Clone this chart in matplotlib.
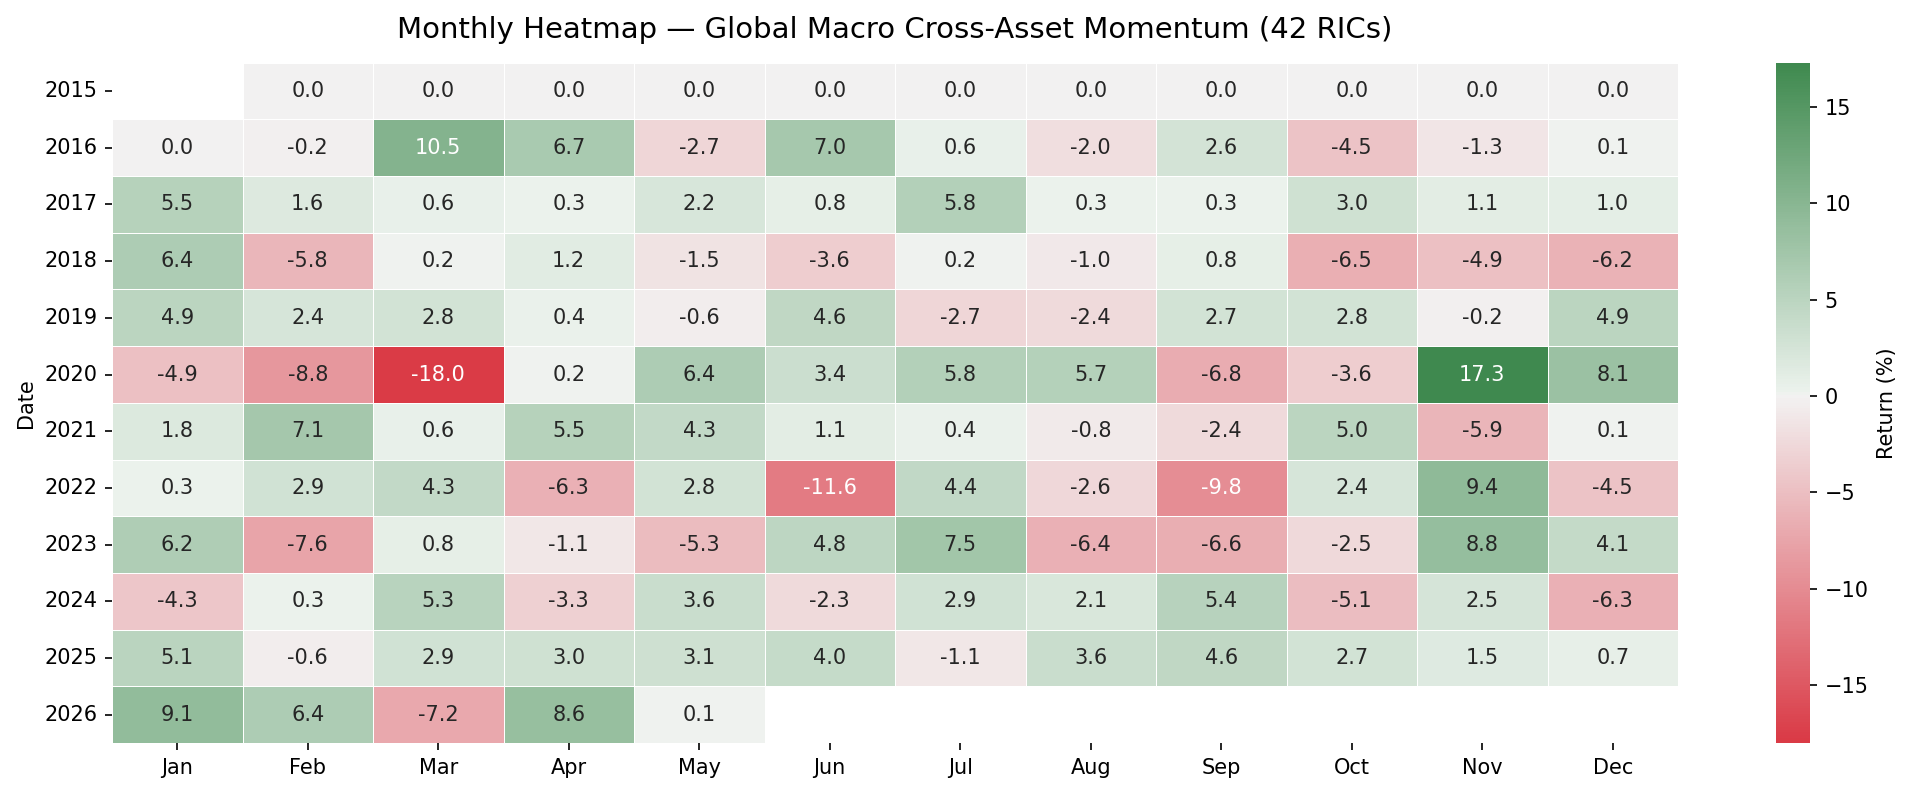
import numpy as np
import pandas as pd
import matplotlib
matplotlib.use("Agg")
import matplotlib.pyplot as plt
import seaborn as sns

# ── data ────────────────────────────────────────────────────────────────────
years = [2015, 2016, 2017, 2018, 2019, 2020, 2021, 2022, 2023, 2024, 2025, 2026]
months = ["Jan", "Feb", "Mar", "Apr", "May", "Jun",
          "Jul", "Aug", "Sep", "Oct", "Nov", "Dec"]
nan = np.nan
r2015 = [nan, 0.0, 0.0, 0.0, 0.0, 0.0, 0.0, 0.0, 0.0, 0.0, 0.0, 0.0]
r2016 = [0.0, -0.2, 10.5, 6.7, -2.7, 7.0, 0.6, -2.0, 2.6, -4.5, -1.3, 0.1]
r2017 = [5.5, 1.6, 0.6, 0.3, 2.2, 0.8, 5.8, 0.3, 0.3, 3.0, 1.1, 1.0]
r2018 = [6.4, -5.8, 0.2, 1.2, -1.5, -3.6, 0.2, -1.0, 0.8, -6.5, -4.9, -6.2]
r2019 = [4.9, 2.4, 2.8, 0.4, -0.6, 4.6, -2.7, -2.4, 2.7, 2.8, -0.2, 4.9]
r2020 = [-4.9, -8.8, -18.0, 0.2, 6.4, 3.4, 5.8, 5.7, -6.8, -3.6, 17.3, 8.1]
r2021 = [1.8, 7.1, 0.6, 5.5, 4.3, 1.1, 0.4, -0.8, -2.4, 5.0, -5.9, 0.1]
r2022 = [0.3, 2.9, 4.3, -6.3, 2.8, -11.6, 4.4, -2.6, -9.8, 2.4, 9.4, -4.5]
r2023 = [6.2, -7.6, 0.8, -1.1, -5.3, 4.8, 7.5, -6.4, -6.6, -2.5, 8.8, 4.1]
r2024 = [-4.3, 0.3, 5.3, -3.3, 3.6, -2.3, 2.9, 2.1, 5.4, -5.1, 2.5, -6.3]
r2025 = [5.1, -0.6, 2.9, 3.0, 3.1, 4.0, -1.1, 3.6, 4.6, 2.7, 1.5, 0.7]
r2026 = [9.1, 6.4, -7.2, 8.6, 0.1, nan, nan, nan, nan, nan, nan, nan]

table = pd.DataFrame(
    [r2015, r2016, r2017, r2018, r2019, r2020,
     r2021, r2022, r2023, r2024, r2025, r2026],
    index=pd.Index(years, name="Date"), columns=months)

# ── figure ──────────────────────────────────────────────────────────────────
W, H = 1911, 793
fig = plt.figure(figsize=(W / 150, H / 150), dpi=150)
ax = fig.add_axes([112 / W, 1 - 743 / H, (1678 - 112) / W, (743 - 62.7) / H])
cax = fig.add_axes([1776 / W, 1 - 743 / H, 34 / W, (743 - 62.7) / H])

cmap = sns.diverging_palette(10, 133, as_cmap=True)
sns.heatmap(table, ax=ax, cbar_ax=cax, cmap=cmap, center=0,
            annot=True, fmt=".1f", linewidths=0.4, linecolor="white",
            annot_kws={"fontsize": 10},
            cbar_kws={"label": "Return (%)"})

ax.set_title("Monthly Heatmap — Global Macro Cross-Asset Momentum (42 RICs)",
             fontsize=14, pad=12)
ax.set_xlabel("")
ax.set_ylabel("Date")
ax.tick_params(axis="y", rotation=0)
ax.tick_params(axis="x", rotation=0)

fig.savefig("out.png", dpi=150)
